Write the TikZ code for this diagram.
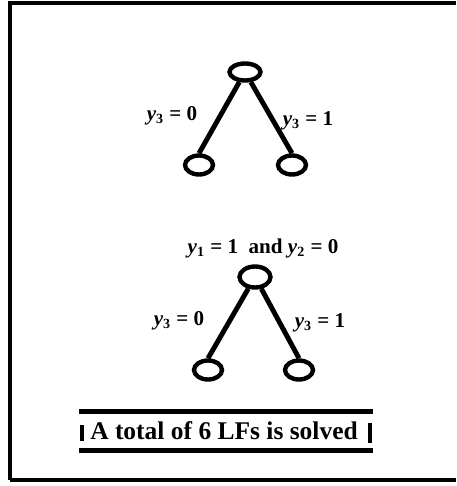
\documentclass[tikz,border=0pt]{standalone}
\usepackage{fontspec}
\setmainfont{Liberation Serif}
\usetikzlibrary{shapes.geometric}

\newcommand{\yvar}[1]{\textit{y}\textsubscript{#1}}

\begin{document}
\begin{tikzpicture}[
    x=0.02cm, y=-0.02cm,
    eqlabel/.style={font=\bfseries\fontsize{12}{14}\selectfont, inner sep=0pt},
    vertex/.style={draw, ellipse, line width=2.5pt, inner sep=0pt,
                   minimum width=0.56cm, minimum height=0.38cm},
    branch/.style={line width=2.8pt},
    frameline/.style={line width=1.8pt},
    rule/.style={line width=2.8pt},
    bar/.style={line width=2.2pt}
]

\useasboundingbox (0,0) rectangle (456,486);

% --- FRAME ---
\coordinate (ftl) at (10,3);
\coordinate (ftr) at (456,3);
\coordinate (fbl) at (10,480);
\coordinate (fbr) at (456,480);
\draw[frameline] (ftr) -- (ftl) -- (fbl);
\draw[line width=2.8pt] (fbl) -- (fbr);

% --- UPPER TREE ---
\node[vertex,minimum width=0.62cm,minimum height=0.34cm] (rootA) at (245,72) {};
\node[vertex] (leftA)  at (199,165) {};
\node[vertex] (rightA) at (292,165) {};
\draw[branch] (rootA) -- (leftA.north);
\draw[branch] (rootA) -- (rightA.north);
\node[eqlabel] (lblA0) at (172,116) {\yvar{3} = 0};
\node[eqlabel] (lblA1) at (308,121) {\yvar{3} = 1};

% --- LOWER TREE ---
\node[eqlabel] (cond) at (263,248) {\yvar{1} = 1~~and \yvar{2} = 0};
\node[vertex,minimum width=0.62cm,minimum height=0.42cm] (rootB) at (255,277) {};
\node[vertex] (leftB)  at (208,370) {};
\node[vertex] (rightB) at (299,370) {};
\draw[branch] (rootB) -- (leftB.north);
\draw[branch] (rootB) -- (rightB.north);
\node[eqlabel] (lblB0) at (179,321) {\yvar{3} = 0};
\node[eqlabel] (lblB1) at (320,323) {\yvar{3} = 1};

% --- RESULT BOX ---
\node[font=\bfseries\fontsize{14.5}{17}\selectfont,
      minimum width=5.88cm, minimum height=0.76cm, inner sep=0pt]
  (total) at (224,431) {A total of 6 LFs is solved};
\draw[rule] ([xshift=0.04cm]total.north west) -- ([xshift=0.04cm]total.north east);
\draw[rule] ([xshift=0.04cm]total.south west) -- ([xshift=0.04cm]total.south east);
\draw[bar] ([xshift=0.1cm,yshift=0.12cm]total.west)
        -- ([xshift=0.1cm,yshift=-0.2cm]total.west);
\draw[bar] ([xshift=-0.02cm,yshift=0.16cm]total.east)
        -- ([xshift=-0.02cm,yshift=-0.24cm]total.east);

\end{tikzpicture}
\end{document}
